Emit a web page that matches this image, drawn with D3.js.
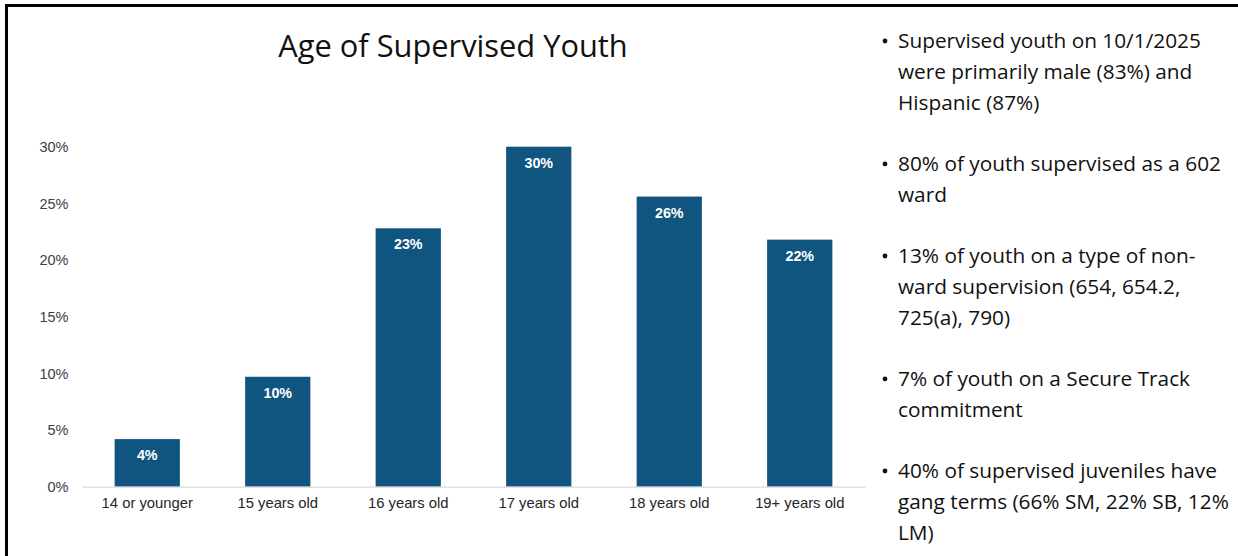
<!DOCTYPE html>
<html>
<head>
<meta charset="utf-8">
<script src="https://cdn.jsdelivr.net/npm/d3@7"></script>
<style>
  html, body { margin: 0; padding: 0; background: #fff; }
  svg { display: block; }
</style>
</head>
<body>
<svg id="chart" width="1238" height="556"></svg>
<script>
// Age groups and share of supervised youth (fraction of total)
const categories = ["14 or younger", "15 years old", "16 years old", "17 years old", "18 years old", "19+ years old"];
const shares = [0.042, 0.097, 0.228, 0.300, 0.256, 0.218];
const yTicks = [0, 0.05, 0.10, 0.15, 0.20, 0.25, 0.30];

const title = "Age of Supervised Youth";

// Key facts listed beside the chart, one entry per bullet (pre-wrapped lines)
const bullets = [
  ["Supervised youth on 10/1/2025", "were primarily male (83%) and", "Hispanic (87%)"],
  ["80% of youth supervised as a 602", "ward"],
  ["13% of youth on a type of non-", "ward supervision (654, 654.2,", "725(a), 790)"],
  ["7% of youth on a Secure Track", "commitment"],
  ["40% of supervised juveniles have", "gang terms (66% SM, 22% SB, 12%", "LM)"]
];

const svg = d3.select("#chart");
const W = 1238, H = 556;

// Slide frame: heavy rule along the top and left edges
svg.append("line").attr("x1", 5).attr("x2", W).attr("y1", 5.5).attr("y2", 5.5)
  .attr("stroke", "#000").attr("stroke-width", 3);
svg.append("line").attr("x1", 6.5).attr("x2", 6.5).attr("y1", 4).attr("y2", H)
  .attr("stroke", "#000").attr("stroke-width", 3);

// Plot area
const plot = { left: 82, right: 865, top: 146.7, bottom: 486.7 };

const x = d3.scaleBand()
  .domain(categories)
  .range([plot.left, plot.right])
  .paddingInner(0.5)
  .paddingOuter(0.25);

const y = d3.scaleLinear()
  .domain([0, 0.30])
  .range([plot.bottom, plot.top]);

// Title
svg.append("text")
  .attr("x", 453)
  .attr("y", 57)
  .attr("text-anchor", "middle")
  .attr("font-family", "'Open Sans', sans-serif")
  .attr("font-size", 30.8)
  .attr("fill", "#111")
  .text(title);

// Y axis: labels only, no line or ticks
const yAxis = d3.axisLeft(y)
  .tickValues(yTicks)
  .tickFormat(d3.format(".0%"))
  .tickSize(0)
  .tickPadding(0);

const gy = svg.append("g")
  .attr("transform", `translate(68.5,0)`)
  .call(yAxis);
gy.select(".domain").remove();
gy.selectAll("text")
  .attr("font-family", "'Liberation Sans', Arial, sans-serif")
  .attr("font-size", 14.5)
  .attr("fill", "#404040");

// Bars
svg.append("g").selectAll("rect")
  .data(categories)
  .join("rect")
  .attr("x", d => x(d))
  .attr("width", x.bandwidth())
  .attr("y", (d, i) => y(shares[i]))
  .attr("height", (d, i) => y(0) - y(shares[i]))
  .attr("fill", "#0f5580");

// X axis baseline and category labels
const xAxis = d3.axisBottom(x).tickSize(0).tickPadding(11);
const gx = svg.append("g")
  .attr("transform", `translate(0,${plot.bottom})`)
  .call(xAxis);
gx.select(".domain")
  .attr("stroke", "#d9d9d9")
  .attr("stroke-width", 1.2);
gx.selectAll("text")
  .attr("font-family", "'Liberation Sans', Arial, sans-serif")
  .attr("font-size", 14.8)
  .attr("fill", "#262626");

// Value labels inside the top of each bar
const pct = d3.format(".0%");
svg.append("g").selectAll("text")
  .data(categories)
  .join("text")
  .attr("x", d => x(d) + x.bandwidth() / 2)
  .attr("y", (d, i) => y(shares[i]) + 21)
  .attr("text-anchor", "middle")
  .attr("font-family", "'Liberation Sans', Arial, sans-serif")
  .attr("font-weight", "bold")
  .attr("font-size", 14.3)
  .attr("fill", "#fff")
  .text((d, i) => pct(shares[i]));

// Bullet list on the right
const listX = 898, bulletX = 885;
const lineH = 30.8, gapH = 30.5;
let yPos = 48;
const list = svg.append("g")
  .attr("font-family", "'Open Sans', sans-serif")
  .attr("font-size", 20.8)
  .attr("fill", "#111");
bullets.forEach(lines => {
  list.append("circle")
    .attr("cx", bulletX)
    .attr("cy", yPos - 7)
    .attr("r", 2.4)
    .attr("fill", "#111");
  lines.forEach((ln, j) => {
    list.append("text")
      .attr("x", listX)
      .attr("y", yPos + j * lineH)
      .text(ln);
  });
  yPos += lines.length * lineH + gapH;
});
</script>
</body>
</html>
